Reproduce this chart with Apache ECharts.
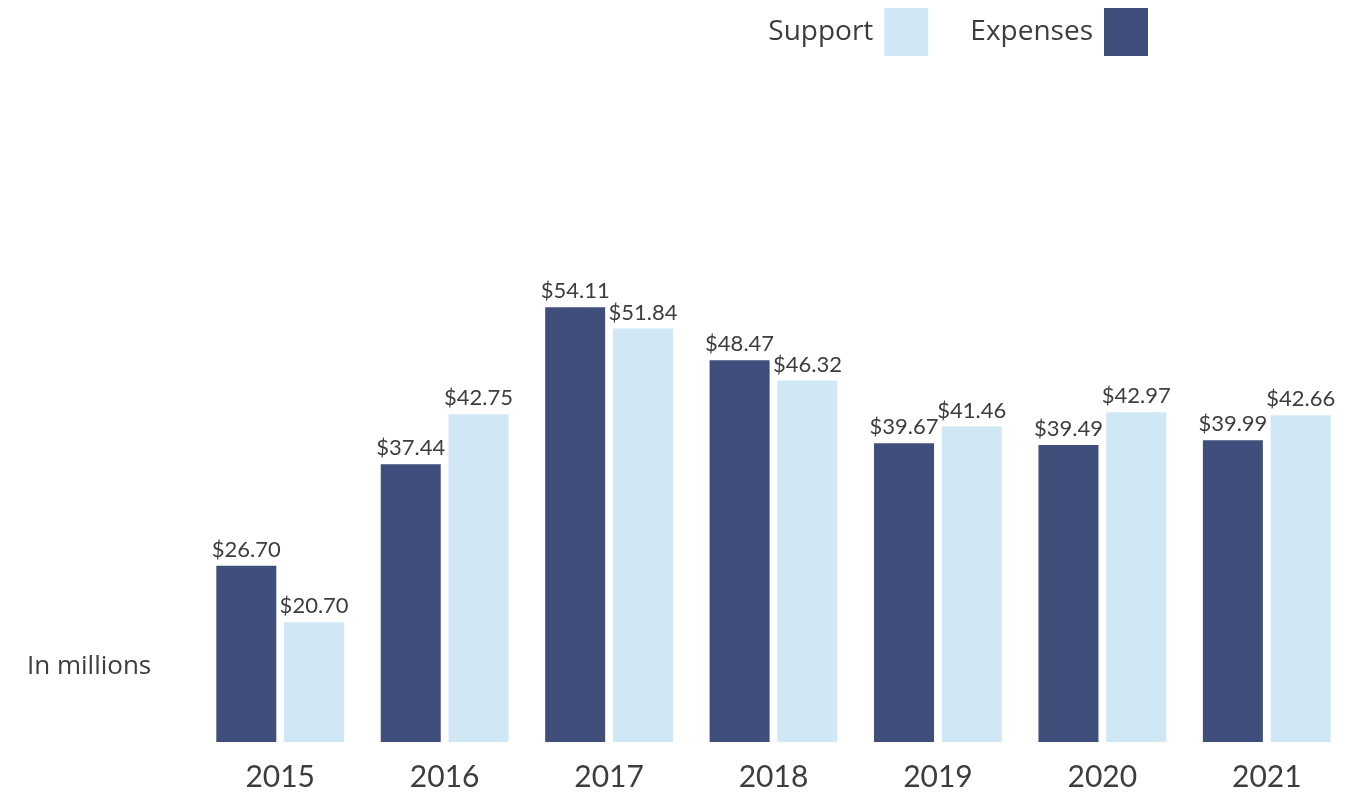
<!DOCTYPE html>
<html>
<head>
<meta charset="utf-8">
<title>Support and Expenses</title>
<script src="https://cdn.jsdelivr.net/npm/echarts@6/dist/echarts.min.js"></script>
<style>
  html, body { margin: 0; padding: 0; background: #fff; }
  #chart { width: 1356px; height: 795px; }
</style>
</head>
<body>
<div id="chart"></div>
<script>
const years = ['2015', '2016', '2017', '2018', '2019', '2020', '2021']
const expenses = [26.70, 37.44, 54.11, 48.47, 39.67, 39.49, 39.99]
const support = [20.70, 42.75, 51.84, 46.32, 41.46, 42.97, 42.66]

const darkBlue = '#3f4e7a'
const lightBlue = '#d0e7f6'
const textColor = '#3d3d3d'
const labelFont = 'Lato, "Open Sans", sans-serif'

const chart = echarts.init(document.getElementById('chart'))

const valueLabel = {
  show: true,
  position: 'top',
  distance: 5,
  fontFamily: labelFont,
  fontSize: 22,
  color: textColor,
  formatter: p => '$' + p.value.toFixed(2)
}

chart.setOption({
  animation: false,
  legend: {
    data: ['Support', 'Expenses'],
    right: 203,
    top: 3,
    align: 'right',
    icon: 'rect',
    itemWidth: 44,
    itemHeight: 48,
    itemGap: 42,
    textStyle: {
      fontFamily: '"Open Sans", sans-serif',
      fontSize: 28,
      color: textColor,
      padding: [0, 6, 0, 0]
    }
  },
  graphic: [{
    type: 'text',
    left: 27,
    top: 654,
    style: {
      text: 'In millions',
      fontFamily: '"Open Sans", sans-serif',
      fontSize: 26,
      fill: textColor
    }
  }],
  grid: { left: 198, right: 7, top: 63, bottom: 53 },
  xAxis: {
    type: 'category',
    data: years,
    axisLine: { show: false },
    axisTick: { show: false },
    axisLabel: {
      margin: 20,
      fontFamily: labelFont,
      fontSize: 30,
      color: textColor
    }
  },
  yAxis: {
    type: 'value',
    min: 8,
    max: 80,
    show: false
  },
  series: [
    {
      name: 'Expenses',
      type: 'bar',
      data: expenses,
      barWidth: 60,
      barGap: '13%',
      itemStyle: { color: darkBlue },
      label: valueLabel
    },
    {
      name: 'Support',
      type: 'bar',
      data: support,
      barWidth: 60,
      itemStyle: { color: lightBlue },
      label: valueLabel
    }
  ]
})
</script>
</body>
</html>
